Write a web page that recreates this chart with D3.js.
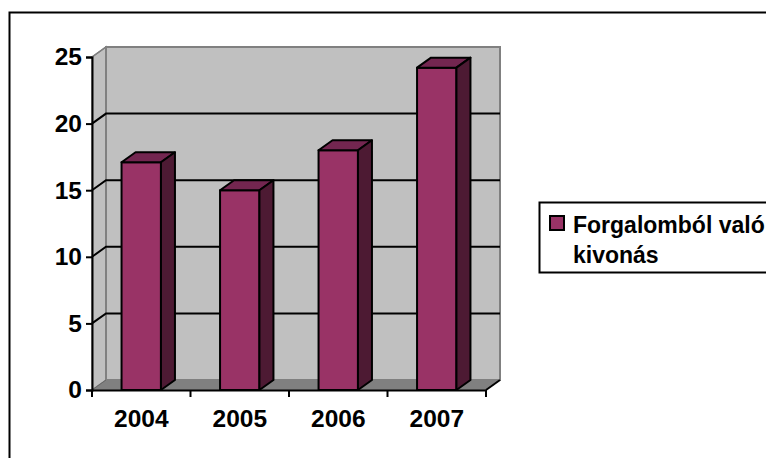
<!DOCTYPE html>
<html><head><meta charset="utf-8">
<script src="https://cdn.jsdelivr.net/npm/d3@7/dist/d3.min.js"></script>
<style>html,body{margin:0;padding:0;background:#fff}svg{display:block}text{font-family:"Liberation Sans",Arial,sans-serif;font-weight:bold;fill:#000}</style>
</head><body><svg id="c" width="766" height="458"></svg>
<script>
const categories=["2004","2005","2006","2007"];
const seriesValues=[17.1,15,18,24.2];
const yTicks=[0,5,10,15,20,25];
const seriesName=["Forgalomból való","kivonás"];
const svg=d3.select("#c");
const dx=14,dy=-10;
const x=d3.scaleBand().domain(categories).range([92,486]).paddingInner(0.6).paddingOuter(0.3);
const y=d3.scaleLinear().domain([0,25]).range([390,57]);
const xBack=x.range()[1]+dx, x0=x.range()[0];
const pts=a=>a.map(p=>p.join(",")).join(" ");
// frame
svg.append("rect").attr("x",9.5).attr("y",12.5).attr("width",800).attr("height",500).attr("fill","#fff").attr("stroke","#000").attr("stroke-width",2);
// side wall, back wall, floor
svg.append("polygon").attr("points",pts([[x0,y(25)],[x0+dx,y(25)+dy],[x0+dx,y(0)+dy],[x0,y(0)]])).attr("fill","#c0c0c0").attr("stroke","#808080").attr("stroke-width",1.5);
svg.append("rect").attr("x",x0+dx).attr("y",y(25)+dy).attr("width",xBack-x0-dx).attr("height",y(0)-y(25)).attr("fill","#c0c0c0").attr("stroke","#808080").attr("stroke-width",2);
svg.append("polygon").attr("points",pts([[x0,y(0)],[x0+dx,y(0)+dy],[xBack,y(0)+dy],[xBack-dx,y(0)]])).attr("fill","#808080");
// gridlines
yTicks.slice(1,-1).forEach(t=>{
  svg.append("polyline").attr("points",pts([[x0,y(t)],[x0+dx,y(t)+dy],[xBack,y(t)+dy]])).attr("fill","none").attr("stroke","#000").attr("stroke-width",2);
});
svg.append("line").attr("x1",xBack-dx).attr("y1",y(0)).attr("x2",xBack).attr("y2",y(0)+dy).attr("stroke","#000").attr("stroke-width",2);
svg.append("line").attr("x1",x0).attr("y1",y(0)).attr("x2",x0+dx).attr("y2",y(0)+dy).attr("stroke","#666").attr("stroke-width",1);
svg.append("line").attr("x1",x0).attr("y1",y(25)).attr("x2",x0+dx).attr("y2",y(25)+dy).attr("stroke","#808080").attr("stroke-width",1.5);
// bars
const g=svg.selectAll("g.bar").data(categories.map((c,i)=>({c,v:seriesValues[i]}))).join("g").attr("class","bar").attr("stroke","#000").attr("stroke-width",2).attr("stroke-linejoin","round");
const w=x.bandwidth();
g.append("rect").attr("x",d=>x(d.c)).attr("y",d=>y(d.v)).attr("width",w).attr("height",d=>y(0)-y(d.v)).attr("fill","#993366");
g.append("polygon").attr("points",d=>{const l=x(d.c),t=y(d.v);return pts([[l,t],[l+dx,t+dy],[l+w+dx,t+dy],[l+w,t]])}).attr("fill","#732650");
g.append("polygon").attr("points",d=>{const r=x(d.c)+w,t=y(d.v);return pts([[r,t],[r+dx,t+dy],[r+dx,y(0)+dy],[r,y(0)]])}).attr("fill","#4d1a33");
// axes
const yAxis=d3.axisLeft(y).tickValues(yTicks).tickSize(6).tickPadding(4);
const ya=svg.append("g").attr("transform",`translate(${x0},0)`).call(yAxis);
const xa=svg.append("g").attr("transform",`translate(0,${y(0)})`).call(d3.axisBottom(x).tickSize(0).tickPadding(20));
xa.selectAll("text").attr("dy","0.71em");
categories.concat("").forEach((c,i)=>{const s=(x.range()[1]-x0)/4;svg.append("line").attr("x1",x0+i*s).attr("x2",x0+i*s).attr("y1",y(0)).attr("y2",y(0)+7).attr("stroke","#000").attr("stroke-width",2)});
[ya,xa].forEach(a=>{a.selectAll("text").style("font-size","24.5px").style("font-family",'"Liberation Sans"').style("font-weight","bold");a.selectAll("path,line").attr("stroke","#000").attr("stroke-width",2)});
// legend
svg.append("rect").attr("x",539.5).attr("y",202.5).attr("width",300).attr("height",70).attr("fill","#fff").attr("stroke","#000").attr("stroke-width",2);
svg.append("rect").attr("x",550).attr("y",216).attr("width",14).attr("height",14).attr("fill","#993366").attr("stroke","#000").attr("stroke-width",2);
svg.selectAll("text.leg").data(seriesName).join("text").attr("class","leg").attr("x",573).attr("y",(d,i)=>232.5+i*30).style("font-size","23px").text(d=>d);
</script></body></html>
